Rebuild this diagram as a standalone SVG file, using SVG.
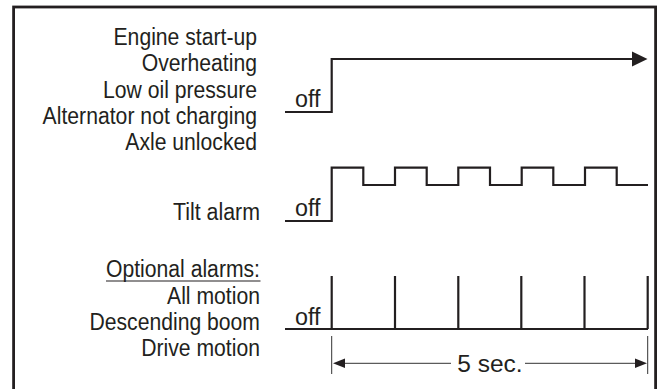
<svg xmlns="http://www.w3.org/2000/svg" width="663" height="389" viewBox="0 0 663 389">
  <style>
    .lbl { font-family: "Liberation Sans", Arial, sans-serif; font-size: 23px; fill: #231f20; }
    .end { text-anchor: end; }
    .sig { fill: none; stroke: #231f20; stroke-width: 2.2; stroke-linejoin: miter; }
    .dim { fill: none; stroke: #333; stroke-width: 1; }
    .frame { fill: none; stroke: #231f20; stroke-width: 2.8; }
  </style>
  <rect width="663" height="389" fill="#ffffff"/>
  <rect class="frame" x="13.6" y="7" width="642" height="400"/>

  <g id="row-engine">
    <text class="lbl end" x="257" y="45" textLength="143.5" lengthAdjust="spacingAndGlyphs">Engine start-up</text>
    <text class="lbl end" x="257" y="71.3" textLength="115.3" lengthAdjust="spacingAndGlyphs">Overheating</text>
    <text class="lbl end" x="257" y="97.6" textLength="154" lengthAdjust="spacingAndGlyphs">Low oil pressure</text>
    <text class="lbl end" x="257" y="123.9" textLength="214.4" lengthAdjust="spacingAndGlyphs">Alternator not charging</text>
    <text class="lbl end" x="257" y="150.2" textLength="131.7" lengthAdjust="spacingAndGlyphs">Axle unlocked</text>
    <text class="lbl" x="295" y="107" textLength="25.5" lengthAdjust="spacingAndGlyphs">off</text>
  </g>

  <g id="row-tilt">
    <text class="lbl end" x="260" y="220" textLength="87" lengthAdjust="spacingAndGlyphs">Tilt alarm</text>
    <text class="lbl" x="295" y="216" textLength="25.5" lengthAdjust="spacingAndGlyphs">off</text>
  </g>

  <g id="row-optional">
    <text class="lbl end" x="260" y="277" textLength="154" lengthAdjust="spacingAndGlyphs">Optional alarms:</text>
    <line x1="106" y1="281" x2="260.5" y2="281" stroke="#231f20" stroke-width="1.2"/>
    <text class="lbl end" x="260" y="303.5" textLength="93" lengthAdjust="spacingAndGlyphs">All motion</text>
    <text class="lbl end" x="260" y="329.5" textLength="170.5" lengthAdjust="spacingAndGlyphs">Descending boom</text>
    <text class="lbl end" x="260" y="355.5" textLength="118.8" lengthAdjust="spacingAndGlyphs">Drive motion</text>
    <text class="lbl" x="295" y="325" textLength="25.5" lengthAdjust="spacingAndGlyphs">off</text>
  </g>

  <g id="connectors">
    <!-- row 1 step -->
    <polyline class="sig" points="285,112 331.7,112 331.7,59 633,59"/>
    <polygon points="632,51.5 647.5,59 632,66.5" fill="#231f20"/>
    <!-- row 2 square wave -->
    <polyline class="sig" points="285,221 331.7,221 331.7,167.7 363.3,167.7 363.3,185 395,185 395,167.7 426.7,167.7 426.7,185 458.3,185 458.3,167.7 490,167.7 490,185 521.7,185 521.7,167.7 553.3,167.7 553.3,185 585,185 585,167.7 616.7,167.7 616.7,185 648,185"/>
    <!-- row 3 pulses -->
    <line class="sig" x1="285" y1="329" x2="648" y2="329"/>
    <line class="sig" x1="331.7" y1="276" x2="331.7" y2="329"/>
    <line class="sig" x1="395" y1="276" x2="395" y2="329"/>
    <line class="sig" x1="458.3" y1="276" x2="458.3" y2="329"/>
    <line class="sig" x1="521.3" y1="276" x2="521.3" y2="329"/>
    <line class="sig" x1="584.5" y1="276" x2="584.5" y2="329"/>
    <line class="sig" x1="647.7" y1="276" x2="647.7" y2="329"/>
  </g>

  <g id="dimension">
    <line class="dim" x1="331.7" y1="336" x2="331.7" y2="374"/>
    <line class="dim" x1="647.7" y1="336" x2="647.7" y2="374"/>
    <line class="dim" x1="344" y1="363.3" x2="451" y2="363.3"/>
    <line class="dim" x1="525" y1="363.3" x2="636" y2="363.3"/>
    <polygon points="333,363.3 345,358.5 345,368.1" fill="#231f20"/>
    <polygon points="647,363.3 635,358.5 635,368.1" fill="#231f20"/>
    <text x="490" y="371.5" text-anchor="middle" style="font-family: 'Liberation Sans', Arial, sans-serif; font-size: 24.5px; fill: #231f20;">5 sec.</text>
  </g>
</svg>
